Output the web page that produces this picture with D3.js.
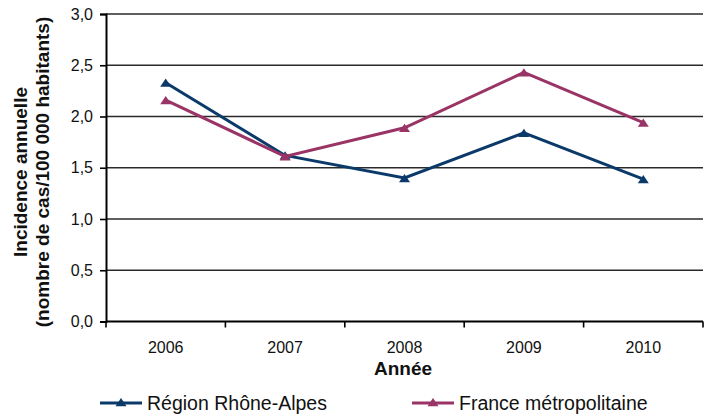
<!DOCTYPE html>
<html>
<head>
<meta charset="utf-8">
<script src="https://cdn.jsdelivr.net/npm/d3@7"></script>
<style>
  html, body { margin: 0; padding: 0; background: #fff; }
  svg { display: block; font-family: "Liberation Sans", Arial, sans-serif; }
</style>
</head>
<body>
<svg id="chart" width="709" height="414"></svg>
<script>
// Annual incidence, cases per 100 000 inhabitants
const years = ["2006", "2007", "2008", "2009", "2010"];
const rhoneAlpes = [2.33, 1.62, 1.40, 1.84, 1.39];
const franceMetro = [2.16, 1.61, 1.89, 2.43, 1.94];
const yTicks = [0, 0.5, 1, 1.5, 2, 2.5, 3];
const seriesNames = ["Région Rhône-Alpes", "France métropolitaine"];
const seriesColors = ["#0b3a6a", "#9a3366"];

const svg = d3.select("#chart");
const plotLeft = 106, plotRight = 703, plotTop = 14, plotBottom = 321.5;

const x = d3.scaleBand().domain(years).range([plotLeft, plotRight]);
const y = d3.scaleLinear().domain([0, 3]).range([plotBottom, plotTop]);
const fmt = v => d3.format(".1f")(v).replace(".", ",");

// horizontal gridlines
svg.append("g").selectAll("line").data(yTicks.filter(v => v > 0)).join("line")
  .attr("x1", plotLeft).attr("x2", plotRight)
  .attr("y1", d => y(d)).attr("y2", d => y(d))
  .attr("stroke", "#2a2a2a").attr("stroke-width", 1.6);

// y axis
const yAxis = svg.append("g").attr("transform", `translate(${plotLeft},0)`)
  .call(d3.axisLeft(y).tickValues(yTicks).tickFormat(fmt).tickSize(6).tickPadding(7));
yAxis.select(".domain").attr("stroke", "#000").attr("stroke-width", 2);
yAxis.selectAll(".tick line").attr("stroke", "#000").attr("stroke-width", 1.6);
yAxis.selectAll(".tick text").attr("font-size", 16).attr("fill", "#111")
  .attr("font-family", "Liberation Sans, Arial, sans-serif");

// x axis: ticks on category boundaries
const xAxisG = svg.append("g").attr("transform", `translate(0,${plotBottom})`);
xAxisG.append("line").attr("x1", plotLeft).attr("x2", plotRight)
  .attr("stroke", "#000").attr("stroke-width", 2);
const bounds = years.map(d => x(d)).concat([x(years[years.length - 1]) + x.bandwidth()]);
xAxisG.selectAll("line.tk").data(bounds).join("line").attr("class", "tk")
  .attr("x1", d => d).attr("x2", d => d).attr("y1", 0).attr("y2", 6)
  .attr("stroke", "#000").attr("stroke-width", 1.6);
xAxisG.selectAll("text").data(years).join("text")
  .attr("x", d => x(d) + x.bandwidth() / 2).attr("y", 31)
  .attr("text-anchor", "middle").attr("font-size", 16).attr("fill", "#111")
  .text(d => d);

// axis titles
svg.append("text").attr("x", 403).attr("y", 375).attr("text-anchor", "middle")
  .attr("font-size", 19).attr("font-weight", "bold").attr("fill", "#111").text("Année");
const yTitle = svg.append("g").attr("transform", "translate(0,172)");
yTitle.append("text").attr("transform", "translate(27,0) rotate(-90)")
  .attr("text-anchor", "middle").attr("font-size", 19).attr("font-weight", "bold")
  .attr("fill", "#111").text("Incidence annuelle");
yTitle.append("text").attr("transform", "translate(49,0) rotate(-90)")
  .attr("text-anchor", "middle").attr("font-size", 19).attr("font-weight", "bold")
  .attr("fill", "#111").text("(nombre de cas/100 000 habitants)");

// triangle marker, slightly flatter than equilateral
const tri = {
  draw(ctx, size) {
    const w = Math.sqrt(size), h = w * 0.75;
    ctx.moveTo(0, -h / 2);
    ctx.lineTo(w / 2, h / 2);
    ctx.lineTo(-w / 2, h / 2);
    ctx.closePath();
  }
};
const marker = d3.symbol().type(tri).size(121);

const line = d3.line().x((d, i) => x(years[i]) + x.bandwidth() / 2).y(d => y(d));
[rhoneAlpes, franceMetro].forEach((vals, si) => {
  const g = svg.append("g");
  g.append("path").datum(vals).attr("d", line).attr("fill", "none")
    .attr("stroke", seriesColors[si]).attr("stroke-width", 3).attr("stroke-linejoin", "miter");
  g.selectAll("path.m").data(vals).join("path").attr("class", "m")
    .attr("transform", (d, i) => `translate(${x(years[i]) + x.bandwidth() / 2},${y(d)})`)
    .attr("d", marker).attr("fill", seriesColors[si]);
});

// legend
const legendX = [100, 412];
const legend = svg.append("g");
seriesNames.forEach((name, i) => {
  const lg = legend.append("g").attr("transform", `translate(${legendX[i]},403)`);
  lg.append("line").attr("x1", 0).attr("x2", 42).attr("y1", 0).attr("y2", 0)
    .attr("stroke", seriesColors[i]).attr("stroke-width", 3);
  lg.append("path").attr("transform", "translate(21,-1)").attr("d", marker).attr("fill", seriesColors[i]);
  lg.append("text").attr("x", 47).attr("y", 6.5).attr("font-size", 19.5).attr("fill", "#111").text(name);
});
</script>
</body>
</html>
